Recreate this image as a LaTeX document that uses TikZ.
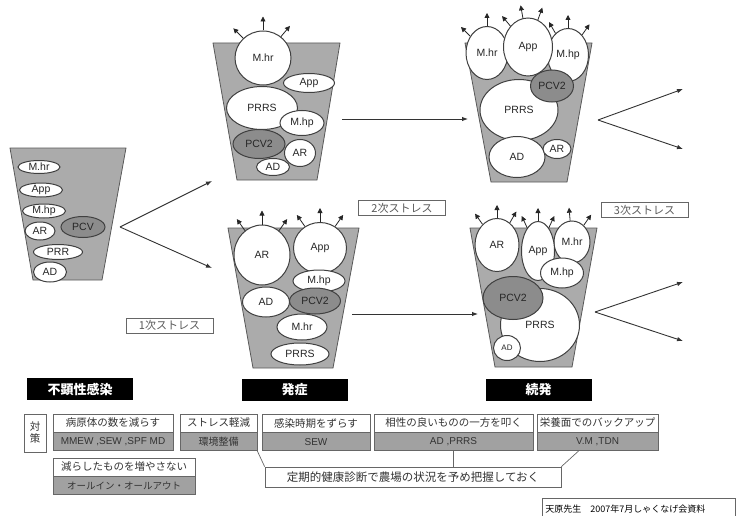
\documentclass[tikz,border=0pt]{standalone}
\usepackage{fontspec}
\setmainfont{Liberation Sans}
\newfontfamily\jp{Noto Sans CJK JP}
\usetikzlibrary{arrows.meta,positioning,shapes.geometric}

\begin{document}
\begin{tikzpicture}[
  x=1pt, y=-1pt,
  font=\fontsize{10.5}{12}\selectfont,
  bucket/.style   ={draw=black!65, fill=black!33, line width=0.8pt},
  germ/.style     ={ellipse, draw=black!75, fill=white, line width=1pt, inner sep=0pt, text=black!85},
  germd/.style    ={germ, fill=black!45},
  emit/.style     ={-{Triangle[length=5pt,width=5pt]}, line width=0.8pt, draw=black!85},
  flow/.style     ={-{Latex[length=6pt,width=4.5pt]}, line width=0.9pt, draw=black!80},
  stresslbl/.style={draw=black!60, line width=0.7pt, text=black!65, inner sep=1pt,
                    minimum width=87pt, minimum height=15pt, font=\jp\fontsize{11}{12}\selectfont},
  phase/.style    ={fill=black, text=white, minimum width=106pt, minimum height=22pt,
                    font=\jp\bfseries\fontsize{13}{14}\selectfont},
  measbox/.style  ={draw=black!60, fill=white, line width=0.7pt, inner sep=1pt, minimum height=18pt,
                    text=black!80, font=\jp\fontsize{10.5}{12}\selectfont},
  measval/.style  ={measbox, fill=black!37, font=\fontsize{10}{12}\selectfont},
  tie/.style      ={draw=black!60, line width=0.7pt},
  note/.style     ={draw=black!60, line width=0.6pt, anchor=north west, align=left, text width=187pt,
                    inner xsep=3pt, minimum height=22pt, font=\jp\fontsize{9}{10}\selectfont}
]
\useasboundingbox (0,0) rectangle (738,516);

% =================== LEFT BUCKET ===================
\draw[bucket] (10,148) -- (126,148) -- (102,280) -- (33,280) -- cycle;
\node[germ,  minimum width=42pt, minimum height=13pt] (lmhr) at (39,167) {M.hr};
\node[germ,  minimum width=43pt, minimum height=14pt] (lapp) at (41,190) {App};
\node[germ,  minimum width=43pt, minimum height=14pt] (lmhp) at (44,211) {M.hp};
\node[germ,  minimum width=30pt, minimum height=18pt] (lar)  at (40,231) {AR};
\node[germd, minimum width=44pt, minimum height=21pt] (lpcv) at (83,227) {PCV};
\node[germ,  minimum width=49pt, minimum height=15pt] (lprr) at (58,252) {PRR};
\node[germ,  minimum width=33pt, minimum height=20pt] (lad)  at (50,272) {AD};

% =================== TOP MIDDLE BUCKET ===================
\draw[bucket] (213,43) -- (340,43) -- (317,180) -- (237,180) -- cycle;
\node[germ,  minimum width=56pt, minimum height=54pt] (amhr)  at (263,58)  {M.hr};
\node[germ,  minimum width=51pt, minimum height=19pt] (aapp)  at (309,83)  {App};
\node[germ,  minimum width=71pt, minimum height=43pt] (aprrs) at (262,108) {PRRS};
\node[germ,  minimum width=44pt, minimum height=25pt] (amhp)  at (302,123) {M.hp};
\node[germd, minimum width=52pt, minimum height=29pt] (apcv)  at (259,144) {PCV2};
\node[germ,  minimum width=31pt, minimum height=27pt] (aar)   at (300,153) {AR};
\node[germ,  minimum width=33pt, minimum height=17pt] (aad)   at (273,167) {AD};
\foreach \a in {135,90,50} \draw[emit] (amhr.\a) -- ++(\a:14pt);

% =================== TOP RIGHT BUCKET ===================
\draw[bucket] (465,43) -- (592,43) -- (567,182) -- (491,182) -- cycle;
\node[germ,  minimum width=42pt, minimum height=53pt] (bmhr)  at (487,53)  {M.hr};
\node[germ,  minimum width=41pt, minimum height=53pt] (bmhp)  at (568,55)  {M.hp};
\node[germ,  minimum width=49pt, minimum height=58pt] (bapp)  at (528,47)  {App};
\node[germ,  minimum width=78pt, minimum height=61pt] (bprrs) at (519,110) {PRRS};
\node[germd, minimum width=43pt, minimum height=32pt] (bpcv)  at (552,86)  {PCV2};
\node[germ,  minimum width=56pt, minimum height=41pt] (bad)   at (517,157) {AD};
\node[germ,  minimum width=28pt, minimum height=19pt] (bar)   at (557,149) {AR};
\foreach \a in {135,90} \draw[emit] (bmhr.\a) -- ++(\a:13pt);
\foreach \a in {130,100,70} \draw[emit] (bapp.\a) -- ++(\a:13pt);
\foreach \a in {120,90,55} \draw[emit] (bmhp.\a) -- ++(\a:13pt);

% =================== BOTTOM MIDDLE BUCKET ===================
\draw[bucket] (228,228) -- (359,228) -- (333,368) -- (253,368) -- cycle;
\node[germ,  minimum width=56pt, minimum height=60pt] (car)   at (262,255) {AR};
\node[germ,  minimum width=53pt, minimum height=51pt] (capp)  at (320,248) {App};
\node[germ,  minimum width=52pt, minimum height=22pt] (cmhp)  at (319,281) {M.hp};
\node[germ,  minimum width=47pt, minimum height=30pt] (cad)   at (266,302) {AD};
\node[germd, minimum width=51pt, minimum height=26pt] (cpcv)  at (315,301) {PCV2};
\node[germ,  minimum width=50pt, minimum height=26pt] (cmhr)  at (302,327) {M.hr};
\node[germ,  minimum width=58pt, minimum height=22pt] (cprrs) at (300,354) {PRRS};
\foreach \a in {125,90,55} \draw[emit] (car.\a) -- ++(\a:14pt);
\foreach \a in {125,90,55} \draw[emit] (capp.\a) -- ++(\a:14pt);

% =================== BOTTOM RIGHT BUCKET ===================
\draw[bucket] (470,228) -- (597,228) -- (572,367) -- (495,367) -- cycle;
\node[germ,  minimum width=44pt, minimum height=53pt] (dar)   at (497,245) {AR};
\node[germ,  minimum width=36pt, minimum height=42pt] (dmhr)  at (572,242) {M.hr};
\node[germ,  minimum width=33pt, minimum height=59pt] (dapp)  at (538,251) {App};
\node[germ,  minimum width=43pt, minimum height=30pt] (dmhp)  at (562,273) {M.hp};
\node[germ,  minimum width=79pt, minimum height=73pt] (dprrs) at (540,325) {PRRS};
\node[germd, minimum width=60pt, minimum height=43pt] (dpcv)  at (513,298) {PCV2};
\node[germ,  minimum width=27pt, minimum height=25pt, font=\fontsize{8}{9}\selectfont] (dad) at (507,348) {AD};
\foreach \a in {125,90,60} \draw[emit] (dar.\a) -- ++(\a:13pt);
\foreach \a in {115,90,65} \draw[emit] (dapp.\a) -- ++(\a:13pt);
\foreach \a in {95,55} \draw[emit] (dmhr.\a) -- ++(\a:13pt);

% =================== STRESS ARROWS ===================
\coordinate (fork0) at (120,227);
\coordinate (up0)   at (212,181);
\coordinate (dn0)   at (212,268);
\draw[flow] (fork0) -- (up0);
\draw[flow] (fork0) -- (dn0);

\coordinate (go1)  at (342,119);
\coordinate (end1) at (468,119);
\draw[flow] (go1) -- (end1);
\coordinate (go2)  at (352,314);
\coordinate (end2) at (478,314);
\draw[flow] (go2) -- (end2);

\coordinate (fork1) at (598,120);
\coordinate (up1)   at (683,89);
\coordinate (dn1)   at (683,149);
\draw[flow] (fork1) -- (up1);
\draw[flow] (fork1) -- (dn1);
\coordinate (fork2) at (595,312);
\coordinate (up2)   at (683,282);
\coordinate (dn2)   at (683,341);
\draw[flow] (fork2) -- (up2);
\draw[flow] (fork2) -- (dn2);

\node[stresslbl] (st1) at (169.5,325.5) {1次ストレス};
\node[stresslbl] (st2) at (402,208)     {2次ストレス};
\node[stresslbl] (st3) at (644.5,210)   {3次ストレス};

% =================== PHASES ===================
\node[phase] (latent)  at (80,389)    {不顕性感染};
\node[phase] (onset)   at (294.5,390) {発症};
\node[phase] (relapse) at (538.5,390) {続発};

% =================== MEASURES ===================
\node[measbox, minimum width=22pt, minimum height=38pt, align=center, inner sep=0pt] (measure) at (35,433) {対\\策};

\node[measbox, minimum width=120pt] (cutnum) at (113,423) {病原体の数を減らす};
\node[measval, minimum width=120pt, below=0pt of cutnum] (cutnumv) {MMEW ,SEW ,SPF MD};
\node[measbox, minimum width=77pt] (ease) at (218.5,423) {ストレス軽減};
\node[measval, minimum width=77pt, below=0pt of ease] (easev) {\jp 環境整備};
\node[measbox, minimum width=108pt] (delay) at (316,423) {感染時期をずらす};
\node[measval, minimum width=108pt, below=0pt of delay] (delayv) {SEW};
\node[measbox, minimum width=159pt] (pair) at (453.5,423) {相性の良いものの一方を叩く};
\node[measval, minimum width=159pt, below=0pt of pair] (pairv) {AD ,PRRS};
\node[measbox, minimum width=121pt] (feed) at (597.5,423) {栄養面でのバックアップ};
\node[measval, minimum width=121pt, below=0pt of feed] (feedv) {V.M ,TDN};

\node[measbox, minimum width=142pt] (keep) at (124,467) {減らしたものを増やさない};
\node[measval, minimum width=142pt, below=0pt of keep, font=\jp\fontsize{9.5}{11}\selectfont] (keepv) {オールイン・オールアウト};

\node[measbox, minimum width=296pt, minimum height=20pt, font=\jp\fontsize{11.5}{13}\selectfont] (check) at (413,477) {定期的健康診断で農場の状況を予め把握しておく};

% ties to the check box
\draw[tie] (easev.south east) -- (check.north west);
\draw[tie] (pairv.south) -- (pairv.south |- check.north);
\draw[tie] ([xshift=-19pt]feedv.south) -- (check.north east);

% =================== SOURCE ===================
\node[note] (credit) at (542,498) {天原先生　2007年7月しゃくなげ会資料};

\end{tikzpicture}
\end{document}
